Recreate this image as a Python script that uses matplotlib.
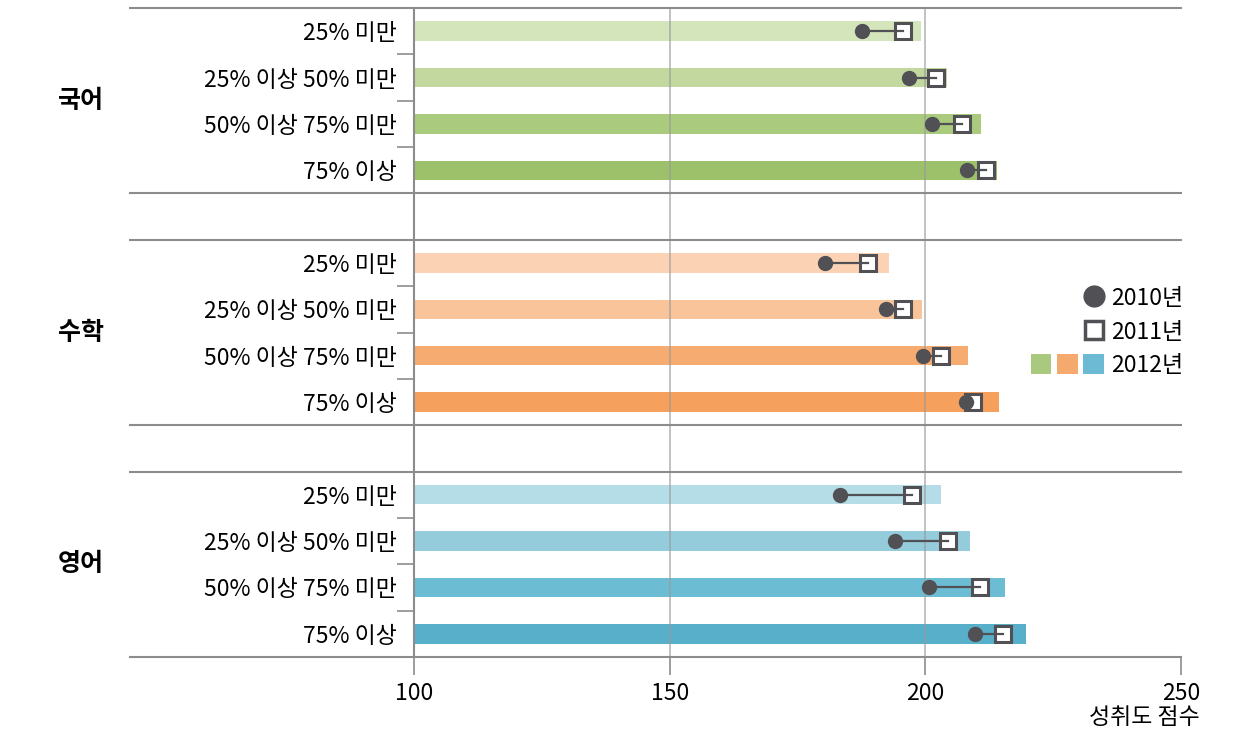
import numpy as np
import matplotlib.pyplot as plt
from matplotlib.lines import Line2D
from matplotlib.patches import Patch
from matplotlib.legend_handler import HandlerTuple
from matplotlib.transforms import blended_transform_factory

plt.rcParams['font.family'] = ['Noto Sans CJK KR', 'DejaVu Sans']

subjects = ['국어', '수학', '영어']
levels = ['25% 미만', '25% 이상 50% 미만', '50% 이상 75% 미만', '75% 이상']

score_2010 = {'국어': [187.6, 196.8, 201.3, 208.1],
              '수학': [180.4, 192.3, 199.5, 208.0],
              '영어': [183.3, 194.0, 200.7, 209.7]}
score_2011 = {'국어': [195.6, 202.1, 207.1, 211.8],
              '수학': [188.8, 195.6, 203.0, 209.3],
              '영어': [197.4, 204.4, 210.7, 215.2]}
score_2012 = {'국어': [199.1, 204.2, 210.9, 214.0],
              '수학': [192.9, 199.3, 208.3, 214.4],
              '영어': [203.0, 208.7, 215.5, 219.6]}

bar_colors = {'국어': ['#d4e4bb', '#c2d89e', '#aacb7d', '#9dc16a'],
              '수학': ['#fbd3b4', '#f9c49a', '#f6ab70', '#f5a05c'],
              '영어': ['#b4dde7', '#95ccdc', '#6cbcd4', '#57afca']}
legend_colors = ['#a8c97e', '#f6a96d', '#6cbad3']

xticks = [100, 150, 200, 250]
dark = '#505055'
rule = '#8c8c8c'

W, H = 1240, 733
fig = plt.figure(figsize=(W / 100, H / 100), dpi=100)
ax = fig.add_axes([414 / W, 1 - 657 / H, 767 / W, 649 / H])

ypos, ylabels = [], []
for g, subj in enumerate(subjects):
    ys = np.arange(4) + g * 5
    ax.barh(ys, np.array(score_2012[subj]) - 100, left=100, height=0.42,
            color=bar_colors[subj], zorder=1)
    for y, a, b in zip(ys, score_2010[subj], score_2011[subj]):
        ax.plot([b], [y], marker='s', ms=11, mfc='white', mec=dark, mew=2.2,
                ls='none', zorder=3)
        ax.plot([a, b], [y, y], color=dark, lw=1.6, zorder=4)
        ax.plot([a], [y], marker='o', ms=10, color=dark, ls='none', zorder=5)
    ypos += list(ys)
    ylabels += levels

for gx in [150, 200]:
    ax.axvline(gx, color='#9a9a9a', lw=1.2, alpha=0.7, zorder=2)

ax.set_xlim(100, 250)
ax.set_ylim(13.5, -0.5)
ax.set_xticks(xticks)
ax.set_xticklabels([str(t) for t in xticks], fontsize=16.5)
ax.set_yticks(ypos)
ax.set_yticklabels(ylabels, fontsize=16.5)
minor = [y + 0.5 for g in range(3) for y in np.arange(3) + g * 5]
ax.set_yticks(minor, minor=True)
ax.tick_params(axis='y', which='major', length=0, pad=12)
ax.tick_params(axis='y', which='minor', length=12, color=rule, width=1.2)
ax.tick_params(axis='x', length=13, color=rule, width=1.2, pad=5)

for s in ['top', 'right', 'bottom']:
    ax.spines[s].set_visible(False)
ax.spines['left'].set_color(rule)
ax.spines['left'].set_linewidth(1.5)

x0 = -(414 - 130) / 767
for yy in [-0.5, 3.5, 4.5, 8.5, 9.5, 13.5]:
    ax.axhline(yy, xmin=x0, xmax=1, color=rule, lw=1.5, clip_on=False, zorder=6)

tr = blended_transform_factory(fig.transFigure, ax.transData)
for g, subj in enumerate(subjects):
    ax.text(58 / W, g * 5 + 1.5, subj, transform=tr, fontsize=18,
            fontweight='bold', ha='left', va='center')

fig.text(1200 / W, 1 - 717 / H, '성취도 점수', fontsize=16.5, ha='right', va='center')

blank = Patch(facecolor='none', edgecolor='none')
h_dot = Line2D([], [], marker='o', ms=15, color=dark, ls='none')
h_sq = Line2D([], [], marker='s', ms=13, mfc='white', mec=dark, mew=2.5, ls='none')
h_bars = tuple(Patch(facecolor=c, edgecolor='none') for c in legend_colors)
ax.legend([(blank, blank, h_dot), (blank, blank, h_sq), h_bars],
          ['2010년', '2011년', '2012년'],
          handler_map={tuple: HandlerTuple(ndivide=None, pad=0.25)},
          loc='center right', bbox_to_anchor=(1183 / W, 1 - 332 / H),
          bbox_transform=fig.transFigure, frameon=False, fontsize=16.5,
          handlelength=3.2, handleheight=1.0, handletextpad=0.3,
          labelspacing=0.45, borderpad=0, borderaxespad=0)

fig.savefig('out.png', dpi=100)
